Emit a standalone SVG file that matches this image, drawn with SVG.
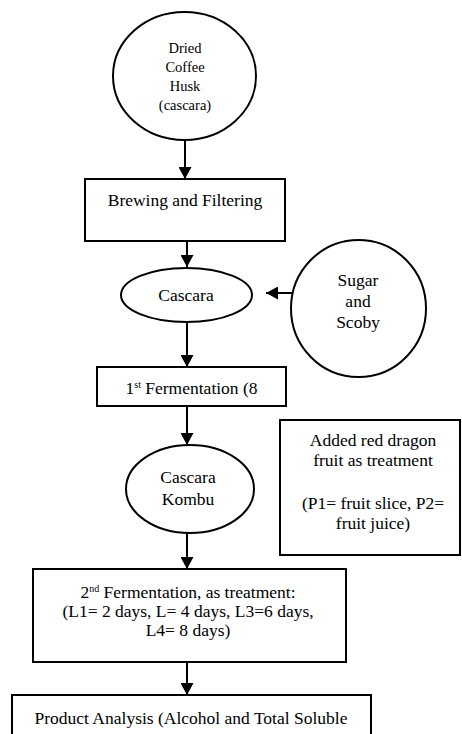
<svg xmlns="http://www.w3.org/2000/svg" width="462" height="734" viewBox="0 0 462 734" font-family="Liberation Serif, Times New Roman, serif">
<style>
.s{fill:#fff;stroke:#000;stroke-width:2}
text{font-family:'Liberation Serif','Times New Roman',Times,serif;font-size:17.5px;fill:#000;text-anchor:middle}
text.sm{font-size:14.5px}
.sup{font-size:10px}
.c{stroke:#000;stroke-width:2;fill:none;marker-end:url(#ah)}
</style>
<defs>
<marker id="ah" markerUnits="userSpaceOnUse" markerWidth="12" markerHeight="13" refX="12" refY="6.5" orient="auto">
<path d="M0,0 L12,6.5 L0,13 z" fill="#000"/>
</marker>
</defs>
<rect width="462" height="734" fill="#fff"/>
<g id="connectors">
<line class="c" x1="185" y1="140" x2="185" y2="179"/>
<line class="c" x1="187" y1="241" x2="187" y2="267"/>
<line class="c" x1="292" y1="293" x2="266" y2="293"/>
<line class="c" x1="187" y1="322" x2="187" y2="367"/>
<line class="c" x1="187" y1="406" x2="187" y2="445"/>
<line class="c" x1="187" y1="533" x2="187" y2="569"/>
<line class="c" x1="187" y1="662" x2="187" y2="695"/>
</g>
<g id="dried">
<ellipse class="s" cx="184.5" cy="76" rx="71.5" ry="64"/>
<text class="sm" x="185" y="53">Dried</text>
<text class="sm" x="185" y="72">Coffee</text>
<text class="sm" x="185" y="91">Husk</text>
<text class="sm" x="185" y="110">(cascara)</text>
</g>
<g id="brewing">
<rect class="s" x="85" y="179" width="200" height="62"/>
<text x="185" y="206">Brewing and Filtering</text>
</g>
<g id="cascara">
<ellipse class="s" cx="186.5" cy="295" rx="65.5" ry="27"/>
<text x="186" y="301">Cascara</text>
</g>
<g id="sugar">
<ellipse class="s" cx="358.5" cy="308.5" rx="67.5" ry="68.5"/>
<text x="358" y="286">Sugar</text>
<text x="358" y="307">and</text>
<text x="358" y="328">Scoby</text>
</g>
<g id="ferment1">
<rect class="s" x="97" y="367" width="189" height="39"/>
<text x="125.5" y="394" style="text-anchor:start">1<tspan class="sup" dy="-6">st</tspan><tspan dy="6"> Fermentation (8</tspan></text>
</g>
<g id="kombu">
<ellipse class="s" cx="190" cy="489" rx="64" ry="44"/>
<text x="188" y="483">Cascara</text>
<text x="188" y="505">Kombu</text>
</g>
<g id="treatment">
<rect class="s" x="280" y="420" width="180" height="135"/>
<text x="373" y="446">Added red dragon</text>
<text x="373" y="466">fruit as treatment</text>
<text x="373" y="509">(P1= fruit slice, P2=</text>
<text x="373" y="529">fruit juice)</text>
</g>
<g id="ferment2">
<rect class="s" x="33" y="569" width="313" height="93"/>
<text x="188" y="598">2<tspan class="sup" dy="-6">nd</tspan><tspan dy="6"> Fermentation, as treatment:</tspan></text>
<text x="188" y="617">(L1= 2 days, L= 4 days, L3=6 days,</text>
<text x="188" y="636">L4= 8 days)</text>
</g>
<g id="analysis">
<rect class="s" x="12" y="695" width="359" height="60"/>
<text x="191" y="724">Product Analysis (Alcohol and Total Soluble</text>
</g>
</svg>
